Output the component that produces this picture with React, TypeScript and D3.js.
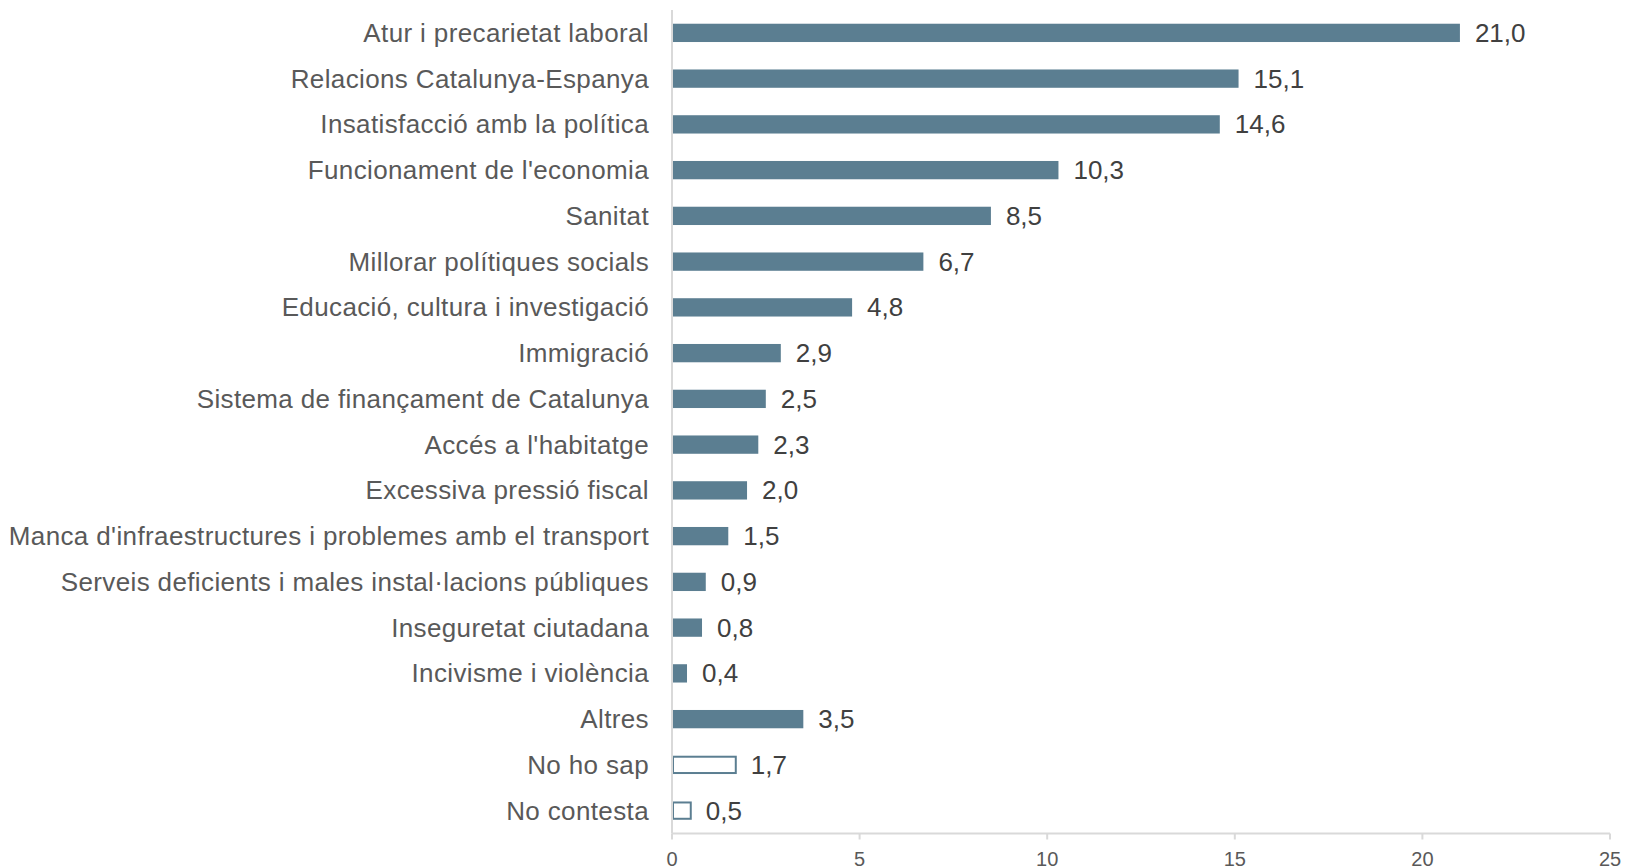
import React from "react";
import * as d3 from "d3";

const categories = [
  "Atur i precarietat laboral",
  "Relacions Catalunya-Espanya",
  "Insatisfacció amb la política",
  "Funcionament de l'economia",
  "Sanitat",
  "Millorar polítiques socials",
  "Educació, cultura i investigació",
  "Immigració",
  "Sistema de finançament de Catalunya",
  "Accés a l'habitatge",
  "Excessiva pressió fiscal",
  "Manca d'infraestructures i problemes amb el transport",
  "Serveis deficients i males instal·lacions públiques",
  "Inseguretat ciutadana",
  "Incivisme i violència",
  "Altres",
  "No ho sap",
  "No contesta",
];
const values = [21.0, 15.1, 14.6, 10.3, 8.5, 6.7, 4.8, 2.9, 2.5, 2.3, 2.0, 1.5, 0.9, 0.8, 0.4, 3.5, 1.7, 0.5];
const outlined = ["No ho sap", "No contesta"];
const xTicks = [0, 5, 10, 15, 20, 25];

const W = 1625;
const H = 868;
const left = 672;
const right = 1610;
const top = 10;
const bottom = 833.5;
const barColor = "#5b7e91";
const font = "'Liberation Sans', Arial, sans-serif";

export default function App() {
  const x = d3.scaleLinear().domain([0, 25]).range([left, right]);
  const y = d3
    .scaleBand<string>()
    .domain(categories)
    .range([top, bottom])
    .paddingInner(0.6)
    .paddingOuter(0.3);
  const fmt = (v: number) => v.toFixed(1).replace(".", ",");
  const bw = y.bandwidth();
  return (
    <svg
      width={W}
      height={H}
      style={{ position: "absolute", left: 0, top: 0, background: "#fff" }}
      fontFamily={font}
    >
      {categories.map((c, i) => {
        const v = values[i];
        const yc = (y(c) as number) + bw / 2;
        const isOut = outlined.includes(c);
        return (
          <g key={c}>
            {isOut ? (
              <rect
                x={x(0) + 1}
                y={(y(c) as number) + 1}
                width={x(v) - x(0) - 1}
                height={bw - 2}
                fill="#fff"
                stroke={barColor}
                strokeWidth={2}
              />
            ) : (
              <rect x={x(0)} y={y(c)} width={x(v) - x(0)} height={bw} fill={barColor} />
            )}
            <text
              x={649}
              y={yc}
              dy="0.35em"
              textAnchor="end"
              fontSize={26}
              letterSpacing={0.37}
              fill="#595959"
            >
              {c}
            </text>
            <text x={x(v) + 15} y={yc} dy="0.35em" fontSize={26} fill="#404040">
              {fmt(v)}
            </text>
          </g>
        );
      })}
      <line x1={left} x2={left} y1={top} y2={bottom} stroke="#d9d9d9" strokeWidth={2} />
      <line x1={left} x2={right} y1={bottom} y2={bottom} stroke="#d9d9d9" strokeWidth={2} />
      {xTicks.map((t) => (
        <g key={t}>
          <line x1={x(t)} x2={x(t)} y1={bottom} y2={bottom + 6} stroke="#d9d9d9" strokeWidth={2} />
          <text x={x(t)} y={865.5} textAnchor="middle" fontSize={20} fill="#595959">
            {t}
          </text>
        </g>
      ))}
    </svg>
  );
}
